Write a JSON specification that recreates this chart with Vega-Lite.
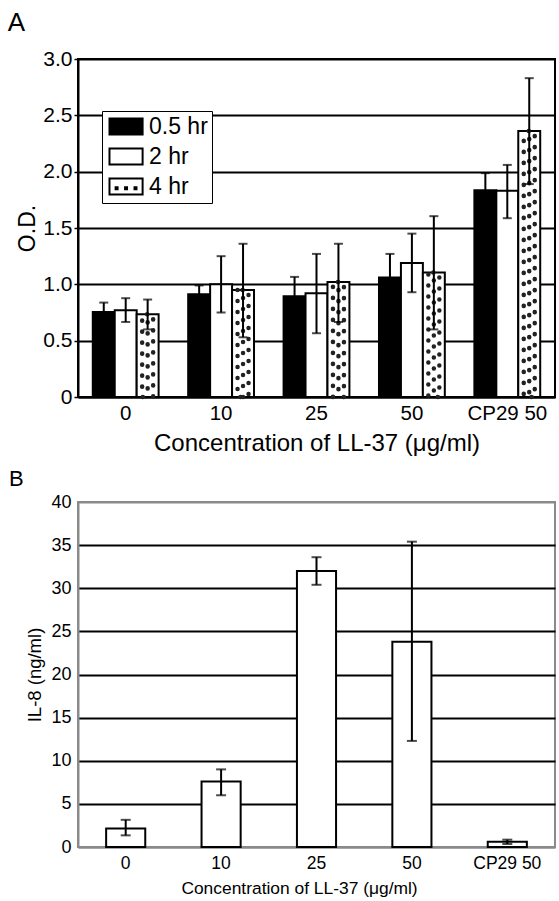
{
  "$schema": "https://vega.github.io/schema/vega-lite/v6.json",
  "padding": {"left": 6, "top": 9, "right": 0, "bottom": 3},
  "background": "white",
  "spacing": 10,
  "datasets": {
    "a": [
      {"group": "0", "series": "0.5 hr", "value": 0.755, "lo": 0.67, "hi": 0.838},
      {"group": "0", "series": "2 hr", "value": 0.77, "lo": 0.666, "hi": 0.877},
      {"group": "0", "series": "4 hr", "value": 0.734, "lo": 0.6, "hi": 0.865},
      {"group": "10", "series": "0.5 hr", "value": 0.912, "lo": 0.834, "hi": 0.99},
      {"group": "10", "series": "2 hr", "value": 1.0, "lo": 0.75, "hi": 1.25},
      {"group": "10", "series": "4 hr", "value": 0.95, "lo": 0.53, "hi": 1.36},
      {"group": "25", "series": "0.5 hr", "value": 0.894, "lo": 0.72, "hi": 1.066},
      {"group": "25", "series": "2 hr", "value": 0.92, "lo": 0.566, "hi": 1.27},
      {"group": "25", "series": "4 hr", "value": 1.02, "lo": 0.666, "hi": 1.36},
      {"group": "50", "series": "0.5 hr", "value": 1.06, "lo": 0.85, "hi": 1.27},
      {"group": "50", "series": "2 hr", "value": 1.19, "lo": 0.93, "hi": 1.45},
      {"group": "50", "series": "4 hr", "value": 1.105, "lo": 0.6, "hi": 1.605},
      {"group": "CP29 50", "series": "0.5 hr", "value": 1.836, "lo": 1.685, "hi": 1.987},
      {"group": "CP29 50", "series": "2 hr", "value": 1.83, "lo": 1.587, "hi": 2.06},
      {"group": "CP29 50", "series": "4 hr", "value": 2.36, "lo": 1.89, "hi": 2.83}
    ],
    "b": [
      {"group": "0", "value": 2.15, "lo": 1.35, "hi": 3.15},
      {"group": "10", "value": 7.6, "lo": 6.0, "hi": 9.0},
      {"group": "25", "value": 32.0, "lo": 30.4, "hi": 33.6},
      {"group": "50", "value": 23.8, "lo": 12.3, "hi": 35.4},
      {"group": "CP29 50", "value": 0.6, "lo": 0.35, "hi": 0.85}
    ]
  },
  "vconcat": [
    {
      "width": 477,
      "height": 338,
      "title": {"text": "A", "anchor": "start", "frame": "bounds", "font": "Liberation Sans", "fontSize": 26, "fontWeight": "normal", "color": "black", "dx": -9, "offset": 12},
      "view": {"stroke": "black", "strokeWidth": 2},
      "data": {"name": "a"},
      "encoding": {
        "x": {
          "field": "group", "type": "nominal",
          "sort": ["0", "10", "25", "50", "CP29 50"],
          "scale": {"paddingInner": 0.31, "paddingOuter": 0.155},
          "title": "Concentration of LL-37 (μg/ml)",
          "axis": {"labelAngle": 0, "labelFont": "Liberation Sans", "labelFontSize": 20.5, "labelColor": "black", "labelPadding": 6, "ticks": false, "domainColor": "black", "domainWidth": 2, "titleFont": "Liberation Sans", "titleFontSize": 24, "titleFontWeight": "normal", "titleColor": "black", "titlePadding": 8}
        },
        "xOffset": {"field": "series", "type": "nominal", "sort": ["0.5 hr", "2 hr", "4 hr"], "scale": {"paddingInner": 0, "paddingOuter": 0}}
      },
      "layer": [
        {
          "mark": {"type": "bar", "stroke": "black", "strokeWidth": 2},
          "encoding": {
            "y": {
              "field": "value", "type": "quantitative",
              "scale": {"domain": [0, 3]},
              "title": "O.D.",
              "axis": {"values": [0, 0.5, 1, 1.5, 2, 2.5, 3], "labelExpr": "datum.value == 0 ? '0' : format(datum.value, '.1f')", "labelFont": "Liberation Sans", "labelFontSize": 21, "labelColor": "black", "labelPadding": 2, "ticks": true, "tickColor": "black", "tickSize": 4, "tickWidth": 1.5, "domainColor": "black", "domainWidth": 2, "grid": true, "gridColor": "black", "gridWidth": 2, "gridOpacity": 1, "titleFont": "Liberation Sans", "titleFontSize": 23, "titleFontWeight": "normal", "titleColor": "black", "titlePadding": 3}
            },
            "fill": {"condition": {"test": "datum.series == '0.5 hr'", "value": "black"}, "value": "white"}
          }
        },
        {
          "transform": [{"filter": "datum.series == '4 hr'"}],
          "mark": {"type": "bar", "fillOpacity": 0, "fill": "white", "stroke": "#222", "strokeWidth": 4.5, "strokeCap": "round", "strokeDash": [0.1, 10.9], "strokeDashOffset": 6, "width": 11},
          "encoding": {"y": {"field": "value", "type": "quantitative", "title": "O.D."}}
        },
        {
          "transform": [{"filter": "datum.series == '4 hr'"}],
          "mark": {"type": "rule", "color": "#222", "strokeWidth": 4.5, "strokeCap": "round", "strokeDash": [0.1, 10.9], "strokeDashOffset": 3},
          "encoding": {"y": {"field": "value", "type": "quantitative", "title": "O.D."}, "y2": {"datum": 0}}
        },
        {
          "mark": {"type": "rule", "color": "black", "strokeWidth": 2},
          "encoding": {"y": {"field": "lo", "type": "quantitative", "title": "O.D."}, "y2": {"field": "hi"}}
        },
        {
          "mark": {"type": "tick", "color": "black", "thickness": 2, "size": 9, "orient": "horizontal"},
          "encoding": {"y": {"field": "hi", "type": "quantitative", "title": "O.D."}}
        },
        {
          "mark": {"type": "tick", "color": "black", "thickness": 2, "size": 9, "orient": "horizontal"},
          "encoding": {"y": {"field": "lo", "type": "quantitative", "title": "O.D."}}
        },
        {
          "transform": [{"filter": "datum.value < 0"}],
          "mark": {"type": "point", "filled": true, "color": "black", "opacity": 1},
          "encoding": {
            "y": {"field": "value", "type": "quantitative", "title": "O.D."},
            "shape": {
              "field": "series", "type": "nominal",
              "scale": {
                "domain": ["0.5 hr", "2 hr", "4 hr"],
                "range": [
                  "M-1,-1H2.9V1H-1Z",
                  "M-1,-1H2.9V1H-1Z M-0.78,-0.78V0.78H2.68V-0.78Z",
                  "M-1,-1H2.9V1H-1Z M-0.78,-0.78V0.78H2.68V-0.78Z M-0.32,-0.02H0.12V0.42H-0.32Z M0.73,-0.02H1.17V0.42H0.73Z M1.78,-0.02H2.22V0.42H1.78Z"
                ]
              },
              "legend": {"title": null, "orient": "none", "legendX": 24, "legendY": 52, "direction": "vertical", "fillColor": "white", "strokeColor": "black", "padding": 4, "symbolSize": 324, "symbolFillColor": "black", "symbolStrokeWidth": 0, "symbolOpacity": 1, "labelFont": "Liberation Sans", "labelFontSize": 23, "labelColor": "black", "labelOffset": 20, "rowPadding": 6, "labelLimit": 200, "encode": {"legend": {"update": {"strokeWidth": {"value": 2}}}}}
            }
          }
        }
      ]
    },
    {
      "width": 477,
      "height": 345,
      "title": {"text": "B", "anchor": "start", "frame": "bounds", "font": "Liberation Sans", "fontSize": 22, "fontWeight": "normal", "color": "black", "dx": -17, "offset": 2},
      "view": {"stroke": "#8a8a8a", "strokeWidth": 2},
      "data": {"name": "b"},
      "encoding": {
        "x": {
          "field": "group", "type": "nominal",
          "sort": ["0", "10", "25", "50", "CP29 50"],
          "scale": {"paddingInner": 0.59, "paddingOuter": 0.295},
          "title": "Concentration of LL-37 (μg/ml)",
          "axis": {"labelAngle": 0, "labelFont": "Liberation Sans", "labelFontSize": 17.5, "labelColor": "black", "labelPadding": 7, "ticks": false, "domainColor": "#8a8a8a", "domainWidth": 2, "titleFont": "Liberation Sans", "titleFontSize": 17.4, "titleFontWeight": "normal", "titleColor": "black", "titlePadding": 8, "titleX": 221, "titleAlign": "center"}
        }
      },
      "layer": [
        {
          "mark": {"type": "bar", "fill": "white", "stroke": "black", "strokeWidth": 2},
          "encoding": {
            "y": {
              "field": "value", "type": "quantitative",
              "scale": {"domain": [0, 40]},
              "title": "IL-8 (ng/ml)",
              "axis": {"values": [0, 5, 10, 15, 20, 25, 30, 35, 40], "labelFont": "Liberation Sans", "labelFontSize": 18, "labelColor": "black", "labelPadding": 7, "ticks": false, "domainColor": "#8a8a8a", "domainWidth": 2, "grid": true, "gridColor": {"condition": {"test": "datum.value == 0 || datum.value == 40", "value": "#8a8a8a"}, "value": "black"}, "gridWidth": 2, "gridOpacity": 1, "titleFont": "Liberation Sans", "titleFontSize": 18.5, "titleFontWeight": "normal", "titleColor": "black", "titlePadding": 6}
            }
          }
        },
        {
          "mark": {"type": "rule", "color": "black", "strokeWidth": 2},
          "encoding": {"y": {"field": "lo", "type": "quantitative", "title": "IL-8 (ng/ml)"}, "y2": {"field": "hi"}}
        },
        {
          "mark": {"type": "tick", "color": "black", "thickness": 2, "size": 10, "orient": "horizontal"},
          "encoding": {"y": {"field": "hi", "type": "quantitative", "title": "IL-8 (ng/ml)"}}
        },
        {
          "mark": {"type": "tick", "color": "black", "thickness": 2, "size": 10, "orient": "horizontal"},
          "encoding": {"y": {"field": "lo", "type": "quantitative", "title": "IL-8 (ng/ml)"}}
        }
      ]
    }
  ]
}
